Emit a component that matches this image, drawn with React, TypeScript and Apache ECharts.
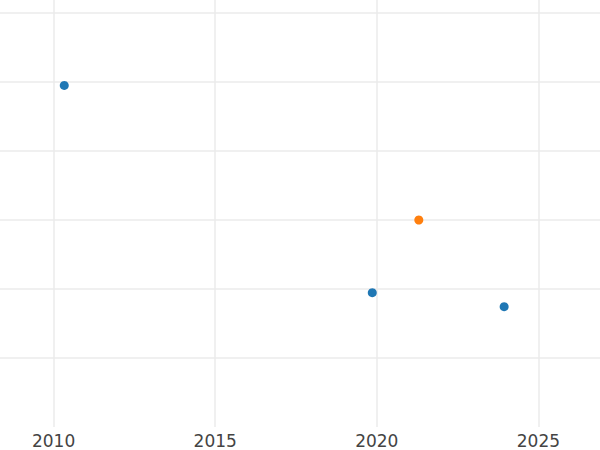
import React, { useEffect, useRef } from "react";
import * as echarts from "echarts";

const blueYears = [2010.33, 2019.86, 2023.94];
const blueValues = [39.5, 9.46, 7.43];
const orangeYears = [2021.3];
const orangeValues = [20];
const xTicks = [2010, 2015, 2020, 2025];

export default function App() {
  const ref = useRef<HTMLDivElement>(null);
  useEffect(() => {
    if (!ref.current) return;
    const chart = echarts.init(ref.current, undefined, { renderer: "svg" });
    const grid = "#ebebeb";
    chart.setOption({
      animation: false,
      grid: { left: 0, right: 0, top: 0, bottom: 23, containLabel: false, outerBoundsMode: "none" },
      xAxis: {
        type: "value",
        min: 2005,
        max: 2030,
        interval: 5,
        axisLine: { show: false },
        axisTick: { show: false },
        axisLabel: {
          fontSize: 17,
          color: "#444",
          fontFamily: "DejaVu Sans",
          margin: 5,
          formatter: (v: number) => (xTicks.includes(v) ? String(v) : ""),
        },
        splitLine: { show: true, lineStyle: { color: grid, width: 1.5 } },
      },
      yAxis: {
        type: "value",
        min: -10,
        max: 51.88,
        interval: 10,
        axisLine: { show: false },
        axisTick: { show: false },
        axisLabel: { show: false },
        splitLine: {
          show: true,
          lineStyle: {
            color: ["rgba(0,0,0,0)", grid, grid, grid, grid, grid, grid],
            width: 1.5,
          },
        },
      },
      series: [
        {
          type: "scatter",
          symbolSize: 9,
          itemStyle: { color: "#1f77b4", opacity: 1 },
          data: blueYears.map((x, i) => [x, blueValues[i]]),
        },
        {
          type: "scatter",
          symbolSize: 9,
          itemStyle: { color: "#ff7f0e", opacity: 1 },
          data: orangeYears.map((x, i) => [x, orangeValues[i]]),
        },
      ],
    });
    return () => chart.dispose();
  }, []);
  return (
    <div
      style={{ position: "absolute", left: 0, top: 0, width: 600, height: 450, overflow: "hidden", background: "#fff" }}
    >
      <div
        ref={ref}
        style={{ position: "absolute", left: -108, top: 0, width: 808, height: 450 }}
      />
    </div>
  );
}
